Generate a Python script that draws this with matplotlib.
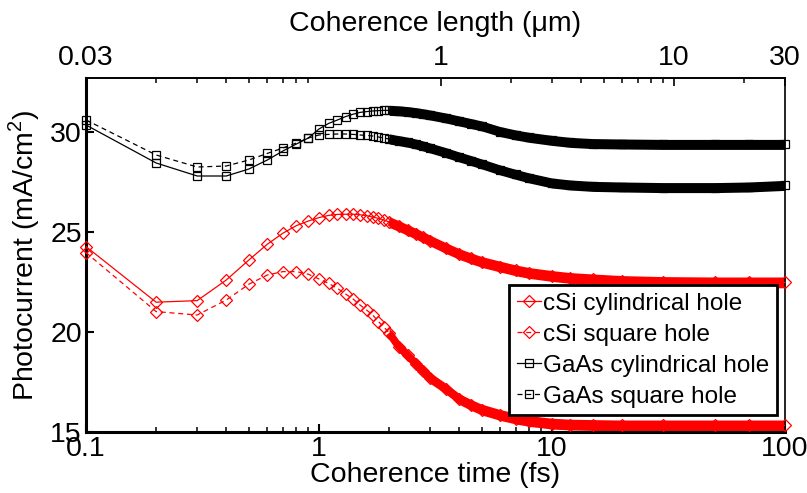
import numpy as np
import matplotlib
matplotlib.use("Agg")
import matplotlib.pyplot as plt
from matplotlib import font_manager
from matplotlib.ticker import FixedLocator, NullFormatter

nombres = {f.name for f in font_manager.fontManager.ttflist}
NARROW = "Liberation Sans Narrow" if "Liberation Sans Narrow" in nombres else "Liberation Sans"
plt.rcParams["font.family"] = [NARROW, "DejaVu Sans"]
plt.rcParams["mathtext.fontset"] = "custom"
plt.rcParams["mathtext.rm"] = "Liberation Sans"

# ============================================================
# DATOS — tiempo de coherencia en fs
# ============================================================
t_fs = [0.1, 0.2, 0.3, 0.4, 0.5, 0.6, 0.7, 0.8, 0.9, 1.0,
        1.1, 1.2, 1.3, 1.4, 1.5, 1.6, 1.7, 1.8, 1.9, 2.0,
        2.2, 2.4, 2.6, 2.8, 3.0, 3.5, 4.0, 4.5, 5.0, 6.0,
        7.0, 8.0, 10, 12, 15, 20, 30, 50, 70, 100]

csi_cyl = [24.27, 21.49, 21.57, 22.60, 23.60, 24.39, 24.94, 25.32, 25.55, 25.72,
           25.83, 25.88, 25.89, 25.89, 25.86, 25.82, 25.75, 25.68, 25.60, 25.50,
           25.30, 25.10, 24.92, 24.74, 24.57, 24.20, 23.90, 23.68, 23.50, 23.27,
           23.08, 22.95, 22.80, 22.70, 22.63, 22.55, 22.50, 22.48, 22.48, 22.48]
csi_sq = [23.97, 21.02, 20.85, 21.60, 22.39, 22.85, 23.02, 23.02, 22.89, 22.65,
          22.43, 22.18, 21.90, 21.65, 21.35, 21.10, 20.85, 20.52, 20.25, 19.95,
          19.27, 18.85, 18.42, 18.05, 17.70, 17.17, 16.65, 16.35, 16.12, 15.85,
          15.67, 15.55, 15.42, 15.37, 15.35, 15.33, 15.33, 15.33, 15.33, 15.33]
gaas_cyl = [30.35, 28.45, 27.80, 27.80, 28.15, 28.60, 29.05, 29.40, 29.70, 30.15,
            30.43, 30.60, 30.77, 30.89, 30.98, 31.02, 31.05, 31.07, 31.08, 31.08,
            31.06, 31.02, 30.97, 30.91, 30.85, 30.70, 30.55, 30.42, 30.30, 30.02,
            29.85, 29.73, 29.58, 29.48, 29.42, 29.40, 29.38, 29.38, 29.38, 29.38]
gaas_sq = [30.60, 28.85, 28.25, 28.30, 28.60, 28.93, 29.20, 29.45, 29.70, 29.85,
           29.88, 29.90, 29.90, 29.88, 29.85, 29.83, 29.80, 29.75, 29.70, 29.65,
           29.57, 29.49, 29.40, 29.30, 29.20, 28.97, 28.75, 28.57, 28.40, 28.10,
           27.88, 27.70, 27.45, 27.35, 27.28, 27.25, 27.22, 27.22, 27.25, 27.33]

etiquetas = ["cSi cylindrical hole", "cSi square hole",
             "GaAs cylindrical hole", "GaAs square hole"]

# eje superior: longitud de coherencia (µm) = 0.3 * t (fs)
top_ticks = [0.03, 1, 10, 30]
top_minor = [0.06, 0.09, 0.12, 0.15, 0.18, 0.21, 0.24, 0.27,
             2, 3, 4, 5, 6, 7, 8, 9, 20]

# ============================================================
# FIGURA
# ============================================================
fig = plt.figure(figsize=(8.07, 4.93), dpi=100)
ax = fig.add_axes([0.1066, 0.1237, 0.8661, 0.7181])

t = np.array(t_fs)
denso = t >= 2.0
series = [(csi_cyl, "red", "D", "-", 0.27), (csi_sq, "red", "D", (0, (4, 3)), 0.27),
          (gaas_cyl, "black", "s", "-", 0.25), (gaas_sq, "black", "s", (0, (4, 3)), 0.25)]
for (y, c, m, ls, h), lab in zip(series, etiquetas):
    y = np.array(y)
    ax.plot(t, y, color=c, ls=ls, lw=0.9, marker=m, ms=6, mfc="none", mew=0.9,
            label=lab, clip_on=False, zorder=3)
    # zona donde los marcadores se superponen: banda continua
    ax.plot(t[denso], y[denso], color=c, lw=5.5, solid_capstyle="butt",
            solid_joinstyle="round", zorder=2)
    ax.fill_between(t[denso], y[denso] - h, y[denso] + h, color=c, lw=0, zorder=2)

ax.set_xscale("log")
ax.set_xlim(0.1, 100)
ax.set_ylim(15, 32.7)
ax.set_xticks([0.1, 1, 10, 100])
ax.set_xticklabels(["0.1", "1", "10", "100"])
ax.xaxis.set_minor_formatter(NullFormatter())
ax.set_yticks([15, 20, 25, 30])
ax.tick_params(axis="both", which="both", direction="in", top=False, right=False,
               labelsize=20.5, pad=3)
ax.tick_params(which="major", length=6, width=1.5)
ax.tick_params(which="minor", length=3.5, width=1.1)
for s in ["left", "bottom"]:
    ax.spines[s].set_linewidth(2.2)
for s in ["top", "right"]:
    ax.spines[s].set_linewidth(1.2)

ax.set_xlabel("Coherence time (fs)", fontsize=20.5, labelpad=0)
ax.set_ylabel("Photocurrent (mA/cm$^2$)", fontsize=20.5, family="Liberation Sans",
              labelpad=6)

sec = ax.secondary_xaxis("top", functions=(lambda v: 0.3 * v, lambda v: v / 0.3))
sec.set_xticks(top_ticks)
sec.set_xticklabels(["0.03", "1", "10", "30"])
sec.xaxis.set_minor_locator(FixedLocator(top_minor))
sec.xaxis.set_minor_formatter(NullFormatter())
sec.tick_params(which="both", direction="in", labelsize=20.5, pad=5)
sec.tick_params(which="major", length=6, width=1.2)
sec.tick_params(which="minor", length=3.5, width=1.1)
sec.spines["top"].set_linewidth(1.2)
sec.set_xlabel("Coherence length (μm)", fontsize=20.5, labelpad=10)

leg = ax.legend(loc="lower right", bbox_to_anchor=(0.9886, 0.048), borderaxespad=0,
                prop={"family": "Liberation Sans", "size": 17.5},
                handlelength=1.0, handletextpad=0.1, borderpad=0.3,
                labelspacing=0.37, fancybox=False, framealpha=1, edgecolor="black")
leg.get_frame().set_linewidth(2)

plt.savefig("out.png", dpi=100)
